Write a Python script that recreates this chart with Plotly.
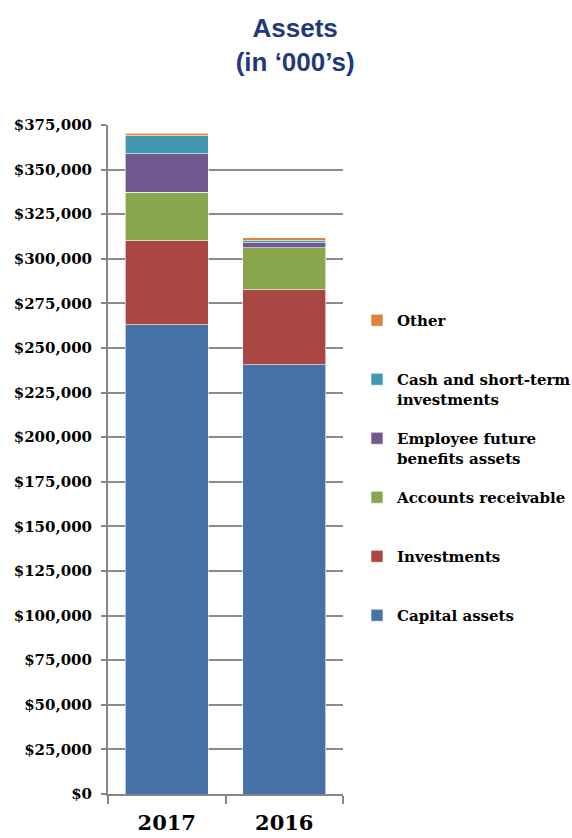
import plotly.graph_objects as go

years = ["2017", "2016"]
series_names = ["Capital assets", "Investments", "Accounts receivable",
                "Employee future benefits assets", "Cash and short-term investments", "Other"]
legend_labels = ["Capital assets<br> ", "Investments<br> ", "Accounts receivable<br> ",
                 "Employee future<br>benefits assets", "Cash and short-term<br>investments", "Other<br> "]
capital_assets = [263000, 240500]
investments = [47000, 42200]
accounts_receivable = [27400, 23400]
employee_future_benefits = [21500, 2800]
cash_short_term = [10100, 1100]
other = [1300, 1700]
colors = ["#4572A7", "#AA4643", "#89A54E", "#71588F", "#4198AF", "#DB843D"]
y_ticks = list(range(0, 375001, 25000))

values = [capital_assets, investments, accounts_receivable,
          employee_future_benefits, cash_short_term, other]

fig = go.Figure()
for i, (name, lab, vals, c) in enumerate(zip(series_names, legend_labels, values, colors)):
    fig.add_trace(go.Bar(
        x=years, y=vals, name=lab, legendgroup=name, legendrank=len(series_names) - i,
        marker=dict(color=c, line=dict(color="white", width=0.6)),
    ))

serif = "DejaVu Serif"
fig.update_layout(
    barmode="stack",
    bargap=0.29,
    width=572, height=838,
    margin=dict(l=108, r=229, t=125, b=44, autoexpand=False),
    plot_bgcolor="white", paper_bgcolor="white",
    title=dict(text="<b>Assets<br>(in ‘000’s)</b>", x=0.516, xanchor="center",
               xref="container", yref="container",
               y=1 - 37 / 838, yanchor="top",
               font=dict(family="Liberation Sans, Arial", size=26, color="#1F3A7A")),
    legend=dict(xref="container", yref="container", x=357 / 572, xanchor="left",
                y=1 - 304 / 838, yanchor="top",
                traceorder="grouped", valign="top", tracegroupgap=17,
                font=dict(family=serif, size=15, color="black", weight="bold"),
                itemwidth=30),
    yaxis=dict(range=[0, 375000], tickvals=y_ticks,
               ticktext=[f"${v:,}" for v in y_ticks],
               showgrid=True, gridcolor="#8C8C8C", gridwidth=2,
               showline=True, linecolor="#868686", linewidth=2,
               ticks="outside", ticklen=5, tickcolor="#868686", tickwidth=2,
               ticklabelstandoff=6,
               tickfont=dict(family=serif, size=15, color="black", weight="bold"),
               zeroline=False),
    xaxis=dict(showline=True, linecolor="#868686", linewidth=2,
               ticks="outside", tickson="boundaries", ticklen=8, tickcolor="#868686", tickwidth=2,
               ticklabelstandoff=9,
               tickfont=dict(family=serif, size=21, color="black", weight="bold")),
)

fig.write_html("out.html")
